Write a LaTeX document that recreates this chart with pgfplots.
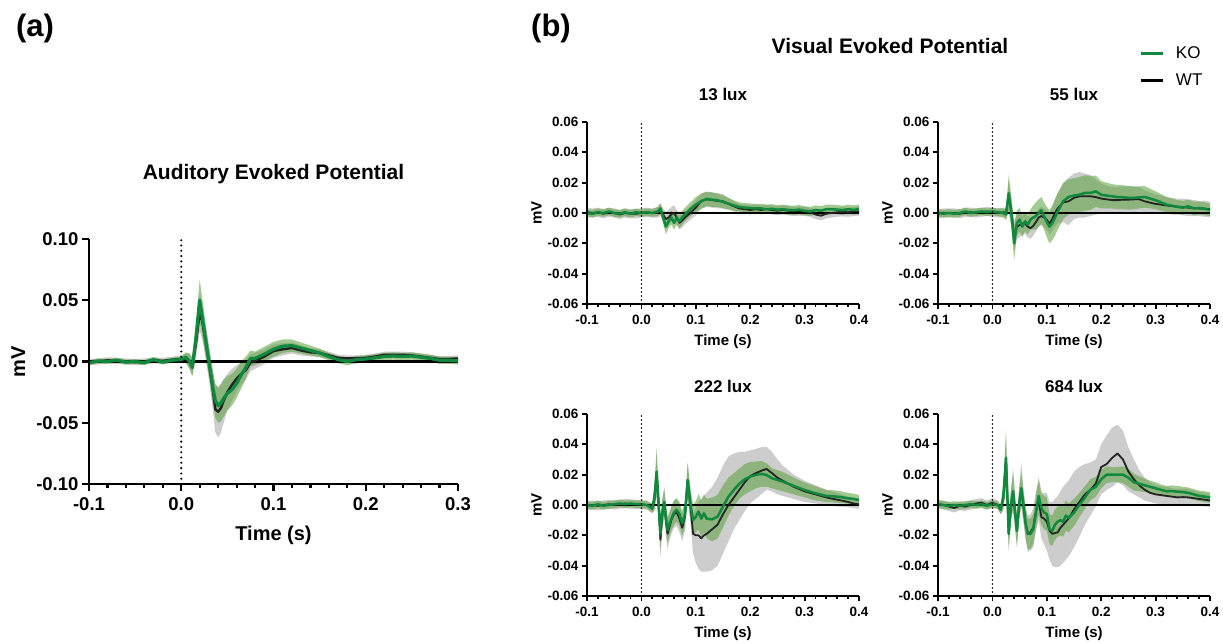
\documentclass[border=0pt]{standalone}
\usepackage{pgfplots}
\pgfplotsset{compat=1.18}
\usepackage{pgfplotstable}
\usepgfplotslibrary{fillbetween}
\usepackage{fontspec}
\setmainfont{Liberation Sans}
\definecolor{kogreen}{RGB}{16,137,62}
\definecolor{koband}{RGB}{90,160,60}
\definecolor{wtband}{RGB}{205,205,205}
\definecolor{wtline}{RGB}{35,35,35}

% columns: t, KO mean, KO lower, KO upper, WT mean, WT lower, WT upper (mV)
\pgfplotstableread{
t ko kl kh wt wl wh
-0.100 -0.0010 -0.0030 0.0010 -0.0005 -0.0030 0.0020
-0.090 0.0005 -0.0015 0.0025 0.0000 -0.0025 0.0025
-0.080 0.0000 -0.0020 0.0020 0.0010 -0.0015 0.0035
-0.070 0.0010 -0.0010 0.0030 0.0005 -0.0020 0.0030
-0.060 -0.0005 -0.0025 0.0015 0.0000 -0.0025 0.0025
-0.050 0.0000 -0.0020 0.0020 -0.0005 -0.0030 0.0020
-0.040 -0.0010 -0.0030 0.0010 0.0000 -0.0025 0.0025
-0.030 0.0015 -0.0005 0.0035 0.0010 -0.0015 0.0035
-0.020 -0.0005 -0.0025 0.0015 0.0005 -0.0020 0.0030
-0.010 0.0010 -0.0010 0.0030 0.0015 -0.0010 0.0040
0.000 0.0015 -0.0010 0.0040 0.0020 -0.0010 0.0050
0.005 0.0035 -0.0005 0.0075 0.0025 -0.0015 0.0065
0.009 0.0000 -0.0060 0.0060 0.0005 -0.0060 0.0070
0.012 -0.0050 -0.0120 0.0020 -0.0040 -0.0120 0.0040
0.016 0.0200 0.0080 0.0320 0.0150 0.0030 0.0270
0.020 0.0500 0.0330 0.0670 0.0400 0.0250 0.0550
0.023 0.0350 0.0200 0.0500 0.0320 0.0170 0.0470
0.026 0.0200 0.0070 0.0330 0.0180 0.0040 0.0320
0.030 0.0000 -0.0120 0.0120 -0.0010 -0.0150 0.0130
0.034 -0.0200 -0.0330 -0.0070 -0.0220 -0.0380 -0.0060
0.037 -0.0320 -0.0460 -0.0180 -0.0390 -0.0580 -0.0200
0.040 -0.0360 -0.0500 -0.0220 -0.0410 -0.0620 -0.0200
0.043 -0.0340 -0.0490 -0.0190 -0.0380 -0.0580 -0.0180
0.046 -0.0300 -0.0450 -0.0150 -0.0320 -0.0500 -0.0140
0.050 -0.0260 -0.0400 -0.0120 -0.0250 -0.0400 -0.0100
0.055 -0.0230 -0.0360 -0.0100 -0.0190 -0.0320 -0.0060
0.060 -0.0180 -0.0300 -0.0060 -0.0140 -0.0250 -0.0030
0.065 -0.0110 -0.0220 0.0000 -0.0100 -0.0190 -0.0010
0.070 -0.0050 -0.0140 0.0040 -0.0070 -0.0150 0.0010
0.075 0.0025 -0.0040 0.0090 -0.0010 -0.0080 0.0060
0.080 0.0025 -0.0030 0.0080 0.0005 -0.0060 0.0070
0.090 0.0060 0.0000 0.0120 0.0040 -0.0020 0.0100
0.100 0.0100 0.0040 0.0160 0.0085 0.0030 0.0140
0.110 0.0125 0.0070 0.0180 0.0100 0.0050 0.0150
0.120 0.0130 0.0080 0.0180 0.0110 0.0065 0.0155
0.130 0.0110 0.0065 0.0155 0.0090 0.0050 0.0130
0.140 0.0090 0.0050 0.0130 0.0075 0.0040 0.0110
0.150 0.0070 0.0035 0.0105 0.0070 0.0040 0.0100
0.160 0.0040 0.0010 0.0070 0.0050 0.0020 0.0080
0.170 0.0015 -0.0015 0.0045 0.0030 0.0005 0.0055
0.180 0.0000 -0.0030 0.0030 0.0025 0.0000 0.0050
0.190 0.0015 -0.0015 0.0045 0.0025 0.0000 0.0050
0.200 0.0020 -0.0010 0.0050 0.0030 0.0005 0.0055
0.210 0.0030 0.0000 0.0060 0.0040 0.0015 0.0065
0.220 0.0040 0.0010 0.0070 0.0055 0.0030 0.0080
0.230 0.0045 0.0015 0.0075 0.0055 0.0030 0.0080
0.240 0.0040 0.0010 0.0070 0.0055 0.0030 0.0080
0.250 0.0045 0.0015 0.0075 0.0050 0.0025 0.0075
0.260 0.0035 0.0005 0.0065 0.0040 0.0015 0.0065
0.270 0.0025 -0.0005 0.0055 0.0030 0.0005 0.0055
0.280 0.0010 -0.0020 0.0040 0.0020 -0.0005 0.0045
0.290 0.0010 -0.0020 0.0040 0.0020 -0.0005 0.0045
0.300 0.0005 -0.0025 0.0035 0.0025 0.0000 0.0050
}\tabAEP

\pgfplotstableread{
t ko kl kh wt wl wh
-0.100 0.0000 -0.0025 0.0025 0.0005 -0.0025 0.0035
-0.090 -0.0005 -0.0030 0.0020 0.0000 -0.0030 0.0030
-0.080 0.0005 -0.0020 0.0030 0.0005 -0.0025 0.0035
-0.070 0.0000 -0.0025 0.0025 -0.0005 -0.0035 0.0025
-0.060 0.0010 -0.0015 0.0035 0.0005 -0.0025 0.0035
-0.050 0.0000 -0.0025 0.0025 0.0000 -0.0030 0.0030
-0.040 -0.0005 -0.0030 0.0020 -0.0010 -0.0040 0.0020
-0.030 0.0005 -0.0020 0.0030 0.0000 -0.0030 0.0030
-0.020 -0.0005 -0.0030 0.0020 -0.0005 -0.0035 0.0025
-0.010 0.0005 -0.0020 0.0030 -0.0005 -0.0035 0.0025
0.000 0.0000 -0.0025 0.0025 0.0000 -0.0030 0.0030
0.010 0.0005 -0.0020 0.0030 0.0005 -0.0025 0.0035
0.020 0.0000 -0.0025 0.0025 0.0000 -0.0030 0.0030
0.030 0.0010 -0.0020 0.0040 0.0005 -0.0030 0.0040
0.035 0.0030 -0.0005 0.0065 0.0020 -0.0020 0.0060
0.040 -0.0030 -0.0070 0.0010 -0.0010 -0.0050 0.0030
0.045 -0.0090 -0.0140 -0.0040 -0.0040 -0.0090 0.0010
0.050 -0.0055 -0.0100 -0.0010 -0.0030 -0.0080 0.0020
0.055 -0.0030 -0.0075 0.0015 -0.0010 -0.0060 0.0040
0.060 -0.0065 -0.0110 -0.0020 0.0000 -0.0050 0.0050
0.065 -0.0030 -0.0075 0.0015 -0.0030 -0.0080 0.0020
0.070 -0.0055 -0.0100 -0.0010 -0.0065 -0.0110 -0.0020
0.075 -0.0030 -0.0075 0.0015 -0.0050 -0.0095 -0.0005
0.080 -0.0010 -0.0055 0.0035 -0.0030 -0.0075 0.0015
0.090 0.0025 -0.0020 0.0070 0.0000 -0.0045 0.0045
0.100 0.0055 0.0005 0.0105 0.0035 -0.0015 0.0085
0.110 0.0077 0.0027 0.0127 0.0080 0.0030 0.0130
0.120 0.0093 0.0045 0.0141 0.0090 0.0040 0.0140
0.130 0.0088 0.0040 0.0136 0.0085 0.0035 0.0135
0.140 0.0084 0.0040 0.0128 0.0080 0.0030 0.0130
0.150 0.0073 0.0030 0.0116 0.0077 0.0030 0.0124
0.160 0.0062 0.0025 0.0099 0.0060 0.0020 0.0100
0.170 0.0049 0.0015 0.0083 0.0044 0.0010 0.0078
0.180 0.0040 0.0010 0.0070 0.0030 0.0000 0.0060
0.190 0.0035 0.0005 0.0065 0.0025 -0.0005 0.0055
0.200 0.0033 0.0003 0.0063 0.0020 -0.0010 0.0050
0.210 0.0030 0.0000 0.0060 0.0025 -0.0005 0.0055
0.220 0.0030 0.0000 0.0060 0.0020 -0.0010 0.0050
0.230 0.0025 -0.0005 0.0055 0.0025 -0.0005 0.0055
0.240 0.0028 -0.0002 0.0058 0.0020 -0.0010 0.0050
0.250 0.0022 -0.0008 0.0052 0.0015 -0.0015 0.0045
0.260 0.0025 -0.0005 0.0055 0.0020 -0.0010 0.0050
0.270 0.0020 -0.0010 0.0050 0.0015 -0.0015 0.0045
0.280 0.0018 -0.0012 0.0048 0.0010 -0.0020 0.0040
0.290 0.0022 -0.0008 0.0052 0.0012 -0.0018 0.0042
0.300 0.0015 -0.0015 0.0045 0.0010 -0.0020 0.0040
0.310 0.0010 -0.0020 0.0040 0.0005 -0.0025 0.0035
0.320 0.0020 -0.0010 0.0050 -0.0010 -0.0040 0.0020
0.330 0.0015 -0.0015 0.0045 -0.0018 -0.0048 0.0012
0.340 0.0025 -0.0005 0.0055 -0.0005 -0.0035 0.0025
0.350 0.0026 -0.0004 0.0056 0.0000 -0.0030 0.0030
0.360 0.0022 -0.0008 0.0052 0.0005 -0.0025 0.0035
0.370 0.0018 -0.0012 0.0048 0.0008 -0.0022 0.0038
0.380 0.0025 -0.0005 0.0055 0.0005 -0.0025 0.0035
0.390 0.0020 -0.0010 0.0050 0.0010 -0.0020 0.0040
0.400 0.0026 -0.0004 0.0056 0.0010 -0.0020 0.0040
}\tabA

\pgfplotstableread{
t ko kl kh wt wl wh
-0.100 0.0000 -0.0025 0.0025 -0.0005 -0.0035 0.0025
-0.090 -0.0005 -0.0030 0.0020 0.0000 -0.0030 0.0030
-0.080 0.0000 -0.0025 0.0025 0.0000 -0.0030 0.0030
-0.070 -0.0005 -0.0030 0.0020 0.0000 -0.0030 0.0030
-0.060 0.0000 -0.0025 0.0025 -0.0005 -0.0035 0.0025
-0.050 0.0010 -0.0015 0.0035 0.0005 -0.0025 0.0035
-0.040 0.0000 -0.0025 0.0025 0.0005 -0.0025 0.0035
-0.030 0.0005 -0.0020 0.0030 0.0000 -0.0030 0.0030
-0.020 0.0010 -0.0015 0.0035 0.0005 -0.0025 0.0035
-0.010 0.0005 -0.0020 0.0030 0.0010 -0.0020 0.0040
0.000 0.0010 -0.0015 0.0035 0.0005 -0.0025 0.0035
0.010 0.0005 -0.0020 0.0030 0.0000 -0.0030 0.0030
0.020 0.0000 -0.0030 0.0030 0.0005 -0.0025 0.0035
0.025 -0.0010 -0.0045 0.0025 0.0000 -0.0035 0.0035
0.030 0.0130 0.0010 0.0250 0.0120 0.0020 0.0220
0.035 0.0000 -0.0100 0.0100 0.0000 -0.0090 0.0090
0.040 -0.0200 -0.0310 -0.0090 -0.0150 -0.0250 -0.0050
0.045 -0.0066 -0.0150 0.0018 -0.0090 -0.0170 -0.0010
0.050 -0.0044 -0.0120 0.0032 -0.0080 -0.0160 0.0000
0.055 -0.0090 -0.0160 -0.0020 -0.0070 -0.0140 0.0000
0.060 -0.0055 -0.0120 0.0010 -0.0070 -0.0140 0.0000
0.065 -0.0077 -0.0140 -0.0014 -0.0090 -0.0160 -0.0020
0.070 -0.0044 -0.0110 0.0022 -0.0100 -0.0170 -0.0030
0.075 -0.0030 -0.0110 0.0050 -0.0085 -0.0150 -0.0020
0.080 -0.0020 -0.0110 0.0070 -0.0060 -0.0120 0.0000
0.085 0.0000 -0.0090 0.0090 -0.0030 -0.0090 0.0030
0.090 0.0018 -0.0070 0.0106 -0.0020 -0.0080 0.0040
0.095 -0.0020 -0.0110 0.0070 -0.0030 -0.0090 0.0030
0.100 -0.0060 -0.0160 0.0040 -0.0045 -0.0110 0.0020
0.105 -0.0090 -0.0200 0.0020 -0.0070 -0.0140 0.0000
0.110 -0.0066 -0.0180 0.0048 -0.0040 -0.0120 0.0040
0.115 -0.0030 -0.0150 0.0090 0.0000 -0.0090 0.0090
0.120 0.0010 -0.0110 0.0130 0.0030 -0.0070 0.0130
0.130 0.0077 -0.0040 0.0194 0.0070 -0.0060 0.0200
0.140 0.0106 -0.0010 0.0222 0.0077 -0.0080 0.0234
0.150 0.0115 0.0000 0.0230 0.0100 -0.0040 0.0260
0.160 0.0121 0.0005 0.0237 0.0110 -0.0030 0.0270
0.170 0.0132 0.0015 0.0249 0.0110 -0.0030 0.0260
0.180 0.0132 0.0020 0.0244 0.0110 -0.0020 0.0250
0.190 0.0143 0.0040 0.0246 0.0105 -0.0010 0.0220
0.200 0.0120 0.0030 0.0210 0.0095 -0.0005 0.0195
0.210 0.0115 0.0030 0.0200 0.0090 0.0000 0.0180
0.220 0.0110 0.0030 0.0190 0.0085 0.0000 0.0170
0.230 0.0105 0.0025 0.0185 0.0085 0.0000 0.0170
0.240 0.0104 0.0025 0.0183 0.0088 0.0000 0.0176
0.250 0.0100 0.0022 0.0178 0.0088 0.0000 0.0176
0.260 0.0100 0.0025 0.0175 0.0090 0.0005 0.0175
0.270 0.0103 0.0030 0.0176 0.0090 0.0010 0.0170
0.280 0.0106 0.0035 0.0177 0.0077 0.0005 0.0150
0.290 0.0095 0.0030 0.0160 0.0068 0.0000 0.0136
0.300 0.0084 0.0025 0.0143 0.0060 0.0000 0.0120
0.310 0.0070 0.0015 0.0125 0.0055 -0.0005 0.0115
0.320 0.0055 0.0005 0.0105 0.0050 -0.0005 0.0105
0.330 0.0048 0.0000 0.0096 0.0045 -0.0010 0.0100
0.340 0.0040 -0.0005 0.0085 0.0042 -0.0010 0.0094
0.350 0.0035 -0.0010 0.0080 0.0040 -0.0015 0.0095
0.360 0.0044 0.0000 0.0088 0.0035 -0.0020 0.0090
0.370 0.0030 -0.0015 0.0075 0.0033 -0.0020 0.0086
0.380 0.0033 -0.0010 0.0076 0.0030 -0.0020 0.0080
0.390 0.0028 -0.0015 0.0071 0.0028 -0.0025 0.0081
0.400 0.0020 -0.0020 0.0060 0.0025 -0.0025 0.0075
}\tabB

\pgfplotstableread{
t ko kl kh wt wl wh
-0.100 0.0000 -0.0025 0.0025 -0.0005 -0.0035 0.0025
-0.090 -0.0005 -0.0030 0.0020 0.0000 -0.0030 0.0030
-0.080 0.0005 -0.0020 0.0030 -0.0005 -0.0035 0.0025
-0.070 -0.0005 -0.0030 0.0020 0.0000 -0.0030 0.0030
-0.060 0.0000 -0.0025 0.0025 0.0005 -0.0025 0.0035
-0.050 0.0005 -0.0020 0.0030 0.0000 -0.0030 0.0030
-0.040 0.0010 -0.0015 0.0035 0.0005 -0.0025 0.0035
-0.030 0.0005 -0.0020 0.0030 0.0010 -0.0020 0.0040
-0.020 0.0010 -0.0015 0.0035 0.0005 -0.0025 0.0035
-0.010 0.0005 -0.0020 0.0030 0.0005 -0.0025 0.0035
0.000 0.0005 -0.0020 0.0030 0.0000 -0.0030 0.0030
0.010 0.0000 -0.0025 0.0025 0.0000 -0.0030 0.0030
0.020 -0.0020 -0.0050 0.0010 -0.0025 -0.0055 0.0005
0.024 0.0050 -0.0030 0.0130 0.0040 -0.0040 0.0120
0.028 0.0220 0.0060 0.0380 0.0210 0.0080 0.0340
0.031 0.0050 -0.0060 0.0160 0.0030 -0.0080 0.0140
0.035 -0.0190 -0.0300 -0.0080 -0.0230 -0.0350 -0.0110
0.038 -0.0060 -0.0150 0.0030 -0.0080 -0.0180 0.0020
0.042 0.0020 -0.0070 0.0110 0.0020 -0.0080 0.0120
0.045 -0.0080 -0.0170 0.0010 -0.0100 -0.0200 0.0000
0.048 -0.0165 -0.0250 -0.0080 -0.0190 -0.0290 -0.0090
0.052 -0.0120 -0.0200 -0.0040 -0.0140 -0.0230 -0.0050
0.055 -0.0090 -0.0170 -0.0010 -0.0100 -0.0190 -0.0010
0.060 -0.0050 -0.0130 0.0030 -0.0060 -0.0150 0.0030
0.065 -0.0033 -0.0110 0.0044 -0.0050 -0.0140 0.0040
0.070 -0.0060 -0.0140 0.0020 -0.0090 -0.0180 0.0000
0.075 -0.0120 -0.0200 -0.0040 -0.0150 -0.0240 -0.0060
0.080 -0.0066 -0.0150 0.0018 -0.0080 -0.0170 0.0010
0.085 0.0165 0.0050 0.0280 0.0160 0.0040 0.0280
0.090 0.0010 -0.0090 0.0110 0.0000 -0.0110 0.0110
0.095 -0.0100 -0.0200 0.0000 -0.0190 -0.0320 -0.0060
0.100 -0.0077 -0.0180 0.0026 -0.0200 -0.0380 -0.0020
0.105 -0.0044 -0.0160 0.0072 -0.0200 -0.0420 0.0020
0.110 -0.0090 -0.0210 0.0030 -0.0220 -0.0440 0.0040
0.115 -0.0055 -0.0180 0.0070 -0.0200 -0.0440 0.0060
0.120 -0.0090 -0.0220 0.0040 -0.0190 -0.0440 0.0080
0.130 -0.0095 -0.0240 0.0050 -0.0160 -0.0430 0.0120
0.140 -0.0077 -0.0220 0.0066 -0.0130 -0.0400 0.0180
0.150 -0.0010 -0.0150 0.0130 -0.0060 -0.0320 0.0260
0.160 0.0055 -0.0070 0.0180 0.0000 -0.0240 0.0320
0.170 0.0100 -0.0010 0.0210 0.0050 -0.0160 0.0340
0.180 0.0140 0.0040 0.0240 0.0100 -0.0100 0.0350
0.190 0.0170 0.0070 0.0270 0.0150 -0.0040 0.0350
0.200 0.0187 0.0090 0.0284 0.0190 0.0010 0.0360
0.210 0.0198 0.0110 0.0286 0.0210 0.0040 0.0370
0.220 0.0205 0.0120 0.0290 0.0225 0.0070 0.0380
0.230 0.0198 0.0120 0.0276 0.0238 0.0100 0.0385
0.240 0.0176 0.0110 0.0242 0.0210 0.0090 0.0350
0.250 0.0165 0.0100 0.0230 0.0180 0.0070 0.0300
0.260 0.0154 0.0090 0.0218 0.0160 0.0060 0.0260
0.270 0.0140 0.0080 0.0200 0.0140 0.0050 0.0230
0.280 0.0126 0.0070 0.0182 0.0120 0.0040 0.0200
0.290 0.0112 0.0060 0.0164 0.0105 0.0030 0.0180
0.300 0.0099 0.0050 0.0148 0.0090 0.0020 0.0160
0.310 0.0088 0.0040 0.0136 0.0080 0.0015 0.0145
0.320 0.0077 0.0030 0.0124 0.0070 0.0010 0.0130
0.330 0.0068 0.0025 0.0111 0.0060 0.0005 0.0115
0.340 0.0060 0.0020 0.0100 0.0050 0.0000 0.0100
0.350 0.0058 0.0018 0.0098 0.0042 -0.0005 0.0089
0.360 0.0055 0.0015 0.0095 0.0035 -0.0010 0.0080
0.370 0.0050 0.0012 0.0088 0.0028 -0.0012 0.0068
0.380 0.0044 0.0008 0.0080 0.0020 -0.0015 0.0055
0.390 0.0040 0.0005 0.0075 0.0010 -0.0020 0.0040
0.400 0.0033 0.0000 0.0066 0.0005 -0.0025 0.0035
}\tabC

\pgfplotstableread{
t ko kl kh wt wl wh
-0.100 0.0005 -0.0020 0.0030 0.0005 -0.0025 0.0035
-0.090 0.0000 -0.0025 0.0025 0.0000 -0.0030 0.0030
-0.080 -0.0005 -0.0030 0.0020 -0.0010 -0.0040 0.0020
-0.070 0.0000 -0.0025 0.0025 -0.0020 -0.0050 0.0010
-0.060 -0.0005 -0.0030 0.0020 -0.0005 -0.0035 0.0025
-0.050 0.0000 -0.0025 0.0025 -0.0010 -0.0040 0.0020
-0.040 0.0005 -0.0020 0.0030 0.0000 -0.0030 0.0030
-0.030 0.0000 -0.0025 0.0025 0.0010 -0.0020 0.0040
-0.020 0.0005 -0.0020 0.0030 0.0015 -0.0015 0.0045
-0.010 -0.0005 -0.0030 0.0020 0.0000 -0.0030 0.0030
0.000 0.0005 -0.0020 0.0030 0.0015 -0.0015 0.0045
0.010 0.0000 -0.0025 0.0025 0.0000 -0.0030 0.0030
0.015 -0.0030 -0.0060 0.0000 -0.0030 -0.0060 0.0000
0.020 0.0050 -0.0030 0.0130 0.0040 -0.0040 0.0120
0.025 0.0310 0.0130 0.0490 0.0300 0.0130 0.0470
0.030 -0.0190 -0.0290 -0.0090 -0.0190 -0.0300 -0.0080
0.034 0.0000 -0.0100 0.0100 -0.0010 -0.0110 0.0090
0.038 0.0090 -0.0030 0.0210 0.0090 -0.0040 0.0250
0.042 -0.0060 -0.0160 0.0040 -0.0060 -0.0170 0.0050
0.045 -0.0170 -0.0270 -0.0070 -0.0170 -0.0280 -0.0060
0.049 0.0000 -0.0100 0.0100 0.0000 -0.0110 0.0110
0.053 0.0110 0.0000 0.0220 0.0110 -0.0010 0.0280
0.057 0.0000 -0.0100 0.0100 0.0000 -0.0110 0.0110
0.061 -0.0120 -0.0220 -0.0020 -0.0120 -0.0230 -0.0010
0.065 -0.0190 -0.0290 -0.0090 -0.0190 -0.0310 -0.0070
0.070 -0.0190 -0.0290 -0.0090 -0.0180 -0.0300 -0.0060
0.075 -0.0160 -0.0260 -0.0060 -0.0150 -0.0280 -0.0020
0.080 -0.0050 -0.0160 0.0060 -0.0040 -0.0170 0.0090
0.085 0.0060 -0.0060 0.0180 0.0030 -0.0100 0.0160
0.090 -0.0020 -0.0130 0.0090 -0.0080 -0.0220 0.0060
0.095 -0.0050 -0.0160 0.0060 -0.0090 -0.0260 0.0080
0.100 -0.0060 -0.0170 0.0050 -0.0110 -0.0300 0.0080
0.105 -0.0160 -0.0260 -0.0060 -0.0170 -0.0360 0.0020
0.110 -0.0170 -0.0270 -0.0070 -0.0190 -0.0400 0.0020
0.115 -0.0130 -0.0230 -0.0030 -0.0185 -0.0410 0.0040
0.120 -0.0110 -0.0210 -0.0010 -0.0180 -0.0410 0.0060
0.125 -0.0100 -0.0200 0.0000 -0.0150 -0.0400 0.0090
0.130 -0.0110 -0.0210 -0.0010 -0.0130 -0.0380 0.0120
0.135 -0.0070 -0.0170 0.0030 -0.0110 -0.0360 0.0140
0.140 -0.0085 -0.0180 0.0010 -0.0090 -0.0340 0.0160
0.150 -0.0050 -0.0140 0.0040 -0.0030 -0.0280 0.0220
0.160 0.0000 -0.0080 0.0080 0.0020 -0.0210 0.0250
0.170 0.0050 -0.0025 0.0125 0.0070 -0.0130 0.0270
0.180 0.0100 0.0030 0.0170 0.0100 -0.0070 0.0280
0.190 0.0120 0.0055 0.0185 0.0140 -0.0010 0.0300
0.200 0.0170 0.0110 0.0230 0.0250 0.0070 0.0400
0.210 0.0200 0.0145 0.0255 0.0270 0.0100 0.0460
0.220 0.0200 0.0150 0.0250 0.0310 0.0120 0.0510
0.230 0.0200 0.0150 0.0250 0.0340 0.0150 0.0530
0.240 0.0200 0.0145 0.0255 0.0300 0.0130 0.0490
0.250 0.0180 0.0120 0.0240 0.0220 0.0090 0.0380
0.260 0.0150 0.0095 0.0205 0.0170 0.0070 0.0300
0.270 0.0140 0.0090 0.0190 0.0130 0.0050 0.0230
0.280 0.0130 0.0085 0.0175 0.0100 0.0030 0.0180
0.290 0.0120 0.0080 0.0160 0.0080 0.0020 0.0150
0.300 0.0110 0.0070 0.0150 0.0070 0.0010 0.0130
0.310 0.0100 0.0065 0.0135 0.0065 0.0005 0.0125
0.320 0.0090 0.0055 0.0125 0.0060 0.0000 0.0120
0.330 0.0092 0.0055 0.0129 0.0055 0.0000 0.0110
0.340 0.0088 0.0050 0.0126 0.0050 -0.0005 0.0105
0.350 0.0085 0.0050 0.0120 0.0052 -0.0005 0.0109
0.360 0.0080 0.0045 0.0115 0.0050 -0.0005 0.0105
0.370 0.0070 0.0035 0.0105 0.0045 -0.0005 0.0095
0.380 0.0060 0.0025 0.0095 0.0040 -0.0005 0.0085
0.390 0.0055 0.0020 0.0090 0.0035 -0.0010 0.0080
0.400 0.0050 0.0015 0.0085 0.0030 -0.0010 0.0070
}\tabD

\pgfplotsset{
  base/.style={
    scale only axis, axis lines*=left, axis on top,
    tick align=outside, scaled ticks=false,
    /pgf/number format/assume math mode=true,
    minor x tick num=4,
    xticklabel style={/pgf/number format/fixed, /pgf/number format/fixed zerofill, /pgf/number format/precision=1},
    yticklabel style={/pgf/number format/fixed, /pgf/number format/fixed zerofill, /pgf/number format/precision=2},
    title style={anchor=center, font=\bfseries\fontsize{17}{20}\selectfont},
  },
  panelA/.style={base,
    width=369pt, height=245pt,
    xmin=-0.1, xmax=0.3, ymin=-0.1, ymax=0.1,
    xtick={-0.1,0,0.1,0.2,0.3}, ytick={-0.1,-0.05,0,0.05,0.1},
    axis line style={line width=2.2pt, black, -},
    tick style={line width=2.2pt, black},
    major tick length=7pt, minor tick length=4pt,
    tick label style={font=\bfseries\fontsize{18.5}{20}\selectfont},
    xticklabel style={yshift=-3pt},
    label style={font=\bfseries\fontsize{20}{22}\selectfont},
    xlabel style={at={(axis description cs:0.5,-0.208)}, anchor=center},
    ylabel style={at={(axis description cs:-0.192,0.5)}, anchor=center},
  },
  panelB/.style={base,
    width=272pt, height=182pt,
    xmin=-0.1, xmax=0.4, ymin=-0.06, ymax=0.06,
    xtick={-0.1,0,0.1,0.2,0.3,0.4}, ytick={-0.06,-0.04,-0.02,0,0.02,0.04,0.06},
    axis line style={line width=1.8pt, black, -},
    tick style={line width=1.8pt, black},
    major tick length=5pt, minor tick length=3pt,
    tick label style={font=\bfseries\fontsize{13.5}{15}\selectfont},
    xticklabel style={yshift=-3pt},
    label style={font=\bfseries\fontsize{15}{17}\selectfont},
    xlabel style={at={(axis description cs:0.5,-0.206)}, anchor=center},
    ylabel style={at={(axis description cs:-0.186,0.5)}, anchor=center},
    title style={at={(axis description cs:0.5,1.118)}},
  },
}

\newcommand{\evoked}[4]{%
  \addplot[name path=wtu, draw=none, forget plot] table[x=t, y=wh] {#1};
  \addplot[name path=wtd, draw=none, forget plot] table[x=t, y=wl] {#1};
  \addplot[fill=wtband, draw=none, forget plot] fill between[of=wtu and wtd];
  \addplot[black, line width=#3, forget plot] coordinates {(-0.1,0) (#2,0)};
  \addplot[wtline, line width=#3, line join=round, forget plot] table[x=t, y=wt] {#1};
  \addplot[name path=kou, draw=none, forget plot] table[x=t, y=kh] {#1};
  \addplot[name path=kod, draw=none, forget plot] table[x=t, y=kl] {#1};
  \addplot[fill=koband, fill opacity=0.55, draw=none, forget plot] fill between[of=kou and kod];
  \addplot[kogreen, line width=#4, line join=round, forget plot] table[x=t, y=ko] {#1};
}

\begin{document}
\begin{tikzpicture}

% (a) Auditory
\begin{axis}[panelA, at={(89pt,-484pt)}, anchor=south west,
  xlabel={Time (s)}, ylabel={mV},
  title={Auditory Evoked Potential},
  title style={at={(axis description cs:0.5,1.241)}, font=\bfseries\fontsize{21}{24}\selectfont}]
\evoked{\tabAEP}{0.3}{2.4pt}{3.2pt}
\addplot[black, line width=2.3pt, dash pattern=on 0pt off 5.3pt, line cap=round, forget plot] coordinates {(0,-0.1) (0,0.1)};
\end{axis}

% (b) 13 lux
\begin{axis}[panelB, at={(587pt,-304pt)}, anchor=south west,
  xlabel={Time (s)}, ylabel={mV}, title={13 lux}]
\evoked{\tabA}{0.4}{1.8pt}{2.5pt}
\addplot[black, line width=1.8pt, dash pattern=on 0pt off 4pt, line cap=round, forget plot] coordinates {(0,-0.06) (0,0.06)};
\end{axis}

% (b) 55 lux
\begin{axis}[panelB, at={(938pt,-304pt)}, anchor=south west,
  xlabel={Time (s)}, ylabel={mV}, title={55 lux},
  legend style={draw=none, fill=none, at={(rel axis cs:0.74,1.426)}, anchor=north west,
    font=\fontsize{17}{20}\selectfont, row sep=10pt, inner sep=0pt},
  legend cell align=left,
  legend image code/.code={\draw[#1] (0pt,0pt) -- (22pt,0pt);}]
\addlegendimage{kogreen, line width=2.5pt}
\addlegendentry{\hspace{10pt}KO}
\addlegendimage{black, line width=2.5pt}
\addlegendentry{\hspace{10pt}WT}
\evoked{\tabB}{0.4}{1.8pt}{2.5pt}
\addplot[black, line width=1.8pt, dash pattern=on 0pt off 4pt, line cap=round, forget plot] coordinates {(0,-0.06) (0,0.06)};
\end{axis}

% (b) 222 lux
\begin{axis}[panelB, at={(587pt,-596pt)}, anchor=south west,
  xlabel={Time (s)}, ylabel={mV}, title={222 lux}]
\evoked{\tabC}{0.4}{1.8pt}{2.5pt}
\addplot[black, line width=1.8pt, dash pattern=on 0pt off 4pt, line cap=round, forget plot] coordinates {(0,-0.06) (0,0.06)};
\end{axis}

% (b) 684 lux
\begin{axis}[panelB, at={(938pt,-596pt)}, anchor=south west,
  xlabel={Time (s)}, ylabel={mV}, title={684 lux}]
\evoked{\tabD}{0.4}{1.8pt}{2.5pt}
\addplot[black, line width=1.8pt, dash pattern=on 0pt off 4pt, line cap=round, forget plot] coordinates {(0,-0.06) (0,0.06)};
\end{axis}

\node[font=\bfseries\fontsize{31}{34}\selectfont] at (35pt,-28pt) {(a)};
\node[font=\bfseries\fontsize{31}{34}\selectfont] at (551pt,-28pt) {(b)};
\node[font=\bfseries\fontsize{21}{24}\selectfont] at (890pt,-46pt) {Visual Evoked Potential};

\pgfresetboundingbox
\useasboundingbox (0pt,0pt) rectangle (1223pt,-644pt);
\end{tikzpicture}
\end{document}
